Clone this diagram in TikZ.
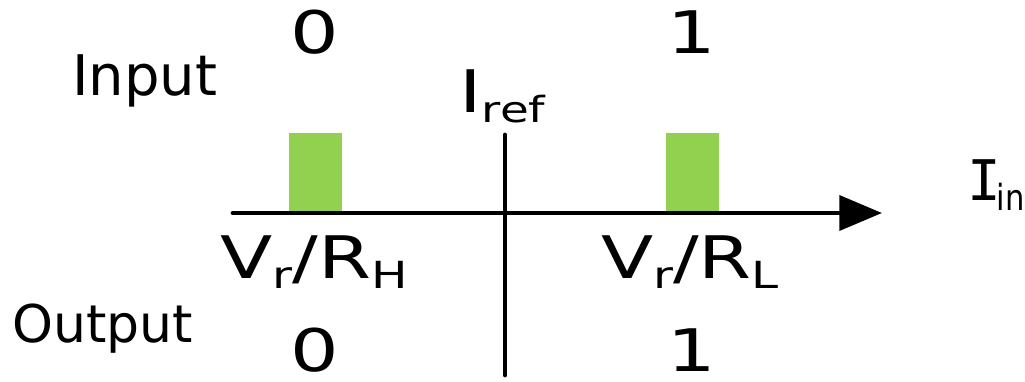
\documentclass[tikz,border=0pt]{standalone}
\usepackage{graphicx}
\usepackage{fontspec}
\setmainfont{DejaVu Sans}
\newfontfamily\slabfont{DejaVu Sans Mono}
\usetikzlibrary{arrows.meta}
\definecolor{bargreen}{HTML}{92D050}
\newcommand{\mysub}[2]{\raisebox{-7.5pt}{\fontsize{#1}{#1}\selectfont #2}}
\newcommand{\wide}[1]{\scalebox{1.3}[1]{#1}}
\begin{document}
\begin{tikzpicture}[x=0.75pt,y=-0.75pt,
  axis/.style={line width=3.6pt,line cap=round},
  bar/.style={fill=bargreen,draw=none},
  lbl/.style={inner sep=0pt,anchor=base},
  big/.style={font=\fontsize{44}{50}\selectfont},
  mid/.style={font=\fontsize{42}{48}\selectfont}]
\useasboundingbox (0,0) rectangle (1025,382);
\fill[bar] (289,133) rectangle (342,213);
\fill[bar] (666,133) rectangle (719,213);
\coordinate (xs) at (233,213);
\coordinate (xe) at (882,213);
\coordinate (ys) at (505,135);
\coordinate (ye) at (505,375);
\draw[axis,-{Triangle[length=32pt,width=26pt]}] (xs) -- (xe);
\draw[axis] (ys) -- (ye);
\node[lbl,big] (i0) at (315,53) {\wide{0}};
\node[lbl,big] (i1) at (692,53) {\wide{1}};
\node[lbl,mid,anchor=base west] (inp) at (72,95) {Input};
\node[lbl,big,anchor=base west] (iref) at (459,112) {\wide{I\mysub{27}{ref}}};
\node[lbl,big,anchor=base east] (iin) at (1025,200) {{\fontsize{42}{48}\slabfont I}\hspace{-3pt}\scalebox{0.85}[1]{\mysub{27}{in}}};
\node[lbl,big] (vrh) at (314,278) {\wide{V\mysub{28}{r}/R\mysub{28}{H}}};
\node[lbl,big] (vrl) at (690,278) {\wide{V\mysub{28}{r}/R\mysub{28}{L}}};
\node[lbl,font=\fontsize{39}{45}\selectfont,anchor=base west] (out) at (12,342) {Output};
\node[lbl,big] (o0) at (315,371) {\wide{0}};
\node[lbl,big] (o1) at (692,371) {\wide{1}};
\end{tikzpicture}
\end{document}
